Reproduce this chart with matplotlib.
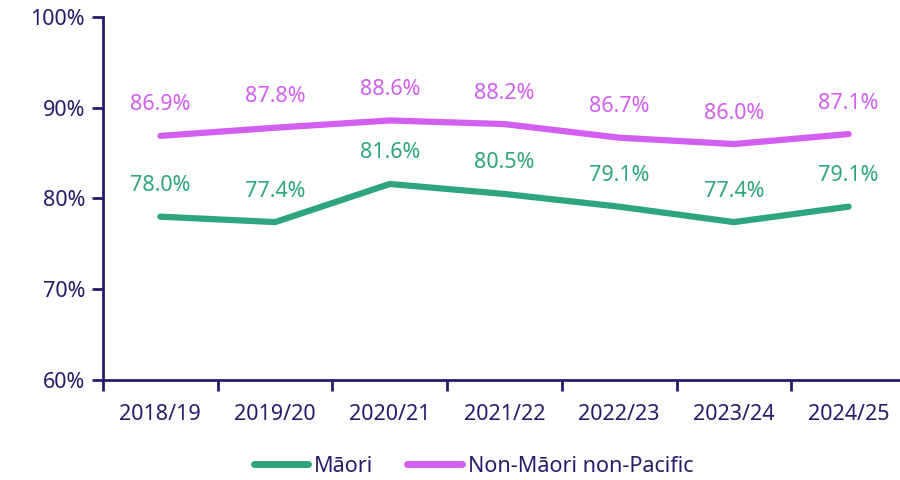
import matplotlib
matplotlib.use("Agg")
import matplotlib.pyplot as plt
from matplotlib.lines import Line2D

categories = ["2018/19", "2019/20", "2020/21", "2021/22", "2022/23", "2023/24", "2024/25"]
maori = [78.0, 77.4, 81.6, 80.5, 79.1, 77.4, 79.1]
non_maori = [86.9, 87.8, 88.6, 88.2, 86.7, 86.0, 87.1]
series_names = ["Māori", "Non-Māori non-Pacific"]
yticks = [60, 70, 80, 90, 100]

GREEN = "#2ea581"
PURPLE = "#d35ff0"
AXIS = "#2b1a6b"
FS = 15.5

plt.rcParams['font.family'] = ['Noto Sans', 'DejaVu Sans']
fig = plt.figure(figsize=(9, 4.8), dpi=100)
ax = fig.add_axes([103/900, 1-380/480, 803/900, (380-17)/480])

x = list(range(len(categories)))
ax.plot(x, non_maori, color=PURPLE, lw=4.5, solid_capstyle='round', solid_joinstyle='round', zorder=3)
ax.plot(x, maori, color=GREEN, lw=4.5, solid_capstyle='round', solid_joinstyle='round', zorder=3)

for xi, v in zip(x, non_maori):
    ax.annotate(f"{v:.1f}%", (xi, v), xytext=(0, 31), textcoords='offset pixels',
                ha='center', va='center', fontsize=FS, color=PURPLE)
for xi, v in zip(x, maori):
    ax.annotate(f"{v:.1f}%", (xi, v), xytext=(0, 31), textcoords='offset pixels',
                ha='center', va='center', fontsize=FS, color=GREEN)

ax.set_xlim(-0.5, len(categories) - 0.5)
ax.set_ylim(60, 100)
ax.set_yticks(yticks)
ax.set_yticklabels([f"{t}%" for t in yticks])
ax.set_xticks([i - 0.5 for i in range(len(categories))])
ax.set_xticklabels([])
ax.set_xticks(x, minor=True)
ax.set_xticklabels(categories, minor=True)
ax.tick_params(axis='x', which='minor', length=0, pad=17, labelsize=FS, labelcolor=AXIS)
ax.tick_params(axis='x', which='major', length=8, width=2, color=AXIS, direction='out')
ax.tick_params(axis='y', length=8, width=2, color=AXIS, labelsize=FS, labelcolor=AXIS, pad=5)

for s in ['top', 'right']:
    ax.spines[s].set_visible(False)
for s in ['left', 'bottom']:
    ax.spines[s].set_color(AXIS)
    ax.spines[s].set_linewidth(2)

handles = [Line2D([0], [0], color=GREEN, lw=5, solid_capstyle='round'),
           Line2D([0], [0], color=PURPLE, lw=5, solid_capstyle='round')]
fig.legend(handles, series_names, loc='center', bbox_to_anchor=(0.526, 1-466/480), ncol=2,
           frameon=False, fontsize=FS, labelcolor=AXIS, handlelength=2.55, handletextpad=0.25,
           columnspacing=1.6)

fig.savefig("out.png", dpi=100)
